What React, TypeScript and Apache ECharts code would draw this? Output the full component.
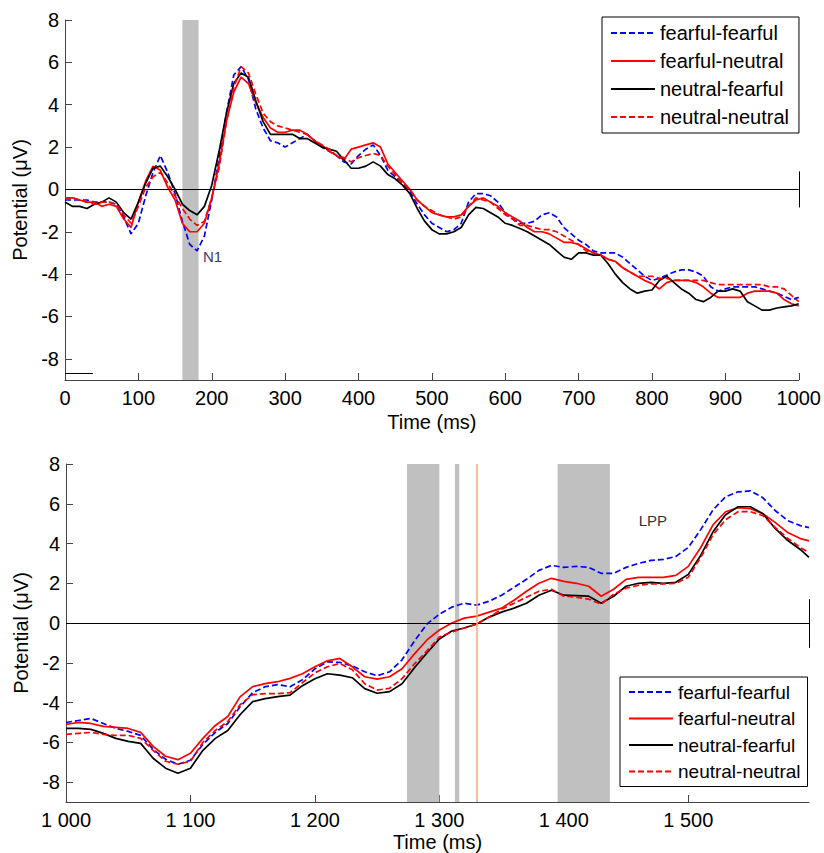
import React, { useEffect, useRef } from "react";
import * as echarts from "echarts";

const FONT = '"Liberation Sans", Arial, Helvetica, sans-serif';
const NAMES = ["fearful-fearful", "fearful-neutral", "neutral-fearful", "neutral-neutral"];

// ---------- Top panel (0 - 1000 ms) ----------
const timesTop = [
  0, 10, 20, 30, 40, 50, 60, 70, 80, 90,
  100, 110, 120, 130, 140, 150, 160, 170, 180, 190,
  200, 210, 220, 230, 240, 250, 260, 270, 280, 290,
  300, 310, 320, 330, 340, 350, 360, 370, 380, 390,
  400, 410, 420, 430, 440, 450, 460, 470, 480, 490,
  500, 510, 520, 530, 540, 550, 560, 570, 580, 590,
  600, 610, 620, 630, 640, 650, 660, 670, 680, 690,
  700, 710, 720, 730, 740, 750, 760, 770, 780, 790,
  800, 810, 820, 830, 840, 850, 860, 870, 880, 890,
  900, 910, 920, 930, 940, 950, 960, 970, 980, 990, 1000,
];
const ffTop = [
  -0.5, -0.5, -0.5, -0.5, -0.6, -0.6, -0.6, -0.7, -1.3, -2.1,
  -1.6, -0.3, 0.8, 1.6, 0.8, -0.2, -1.5, -2.6, -2.9, -2.2,
  -0.5, 1.5, 3.6, 5.4, 5.8, 5.2, 3.8, 2.9, 2.3, 2.2,
  2.0, 2.2, 2.4, 2.6, 2.3, 2.0, 1.8, 1.6, 1.3, 1.2,
  1.6, 1.9, 2.1, 1.6, 0.9, 0.6, 0.3, -0.1, -0.7, -1.2,
  -1.6, -1.8, -2.0, -1.9, -1.6, -0.6, -0.2, -0.2, -0.3, -0.6,
  -1.1, -1.4, -1.6, -1.6, -1.5, -1.2, -1.1, -1.3, -1.8, -2.1,
  -2.4, -2.6, -2.9, -3.0, -3.0, -3.0, -3.2, -3.5, -3.8, -4.1,
  -4.3, -4.2, -4.05, -3.9, -3.8, -3.8, -3.9, -4.1, -4.6, -4.8,
  -4.7, -4.6, -4.6, -4.6, -4.6, -4.7, -4.8, -4.9, -5.05, -5.2, -5.1,
];
const fnTop = [
  -0.4, -0.4, -0.5, -0.6, -0.6, -0.8, -0.7, -0.8, -1.4, -1.8,
  -0.6, 0.4, 1.1, 0.9, 0.1, -0.5, -1.6, -2.0, -2.0, -1.6,
  -0.4, 1.2, 3.2, 4.6, 5.3, 5.0, 4.1, 3.4, 2.9, 2.7,
  2.7, 2.8, 2.8, 2.6, 2.3, 2.1, 1.8, 1.6, 1.4, 1.9,
  2.0, 2.1, 2.2, 2.0, 1.2, 0.8, 0.4, 0.0, -0.5, -0.8,
  -1.1, -1.2, -1.3, -1.3, -1.2, -0.8, -0.5, -0.4, -0.6, -0.8,
  -1.1, -1.3, -1.5, -1.8, -2.0, -2.0, -2.1, -2.3, -2.5, -2.5,
  -2.6, -2.8, -3.0, -3.1, -3.3, -3.4, -3.7, -3.9, -4.1, -4.3,
  -4.45, -4.7, -4.4, -4.3, -4.3, -4.3, -4.4, -4.6, -4.9, -5.1,
  -5.1, -5.1, -5.1, -4.9, -4.8, -4.8, -4.8, -4.9, -5.2, -5.4, -5.5,
];
const nfTop = [
  -0.6, -0.8, -0.8, -0.9, -0.7, -0.6, -0.4, -0.6, -1.1, -1.4,
  -0.6, 0.3, 1.0, 1.1, 0.6, 0.0, -0.7, -1.0, -1.2, -0.8,
  0.2, 1.8, 3.6, 5.0, 5.5, 5.3, 4.2, 3.2, 2.6, 2.6,
  2.6, 2.6, 2.4, 2.4, 2.2, 2.0, 1.9, 1.8, 1.4, 1.0,
  1.0, 1.1, 1.3, 1.1, 0.7, 0.5, 0.2, -0.2, -0.9, -1.5,
  -1.9, -2.1, -2.1, -2.0, -1.8, -1.2, -0.85, -0.9, -1.1, -1.3,
  -1.6, -1.7, -1.85, -2.0, -2.2, -2.4, -2.6, -2.9, -3.2, -3.3,
  -3.0, -3.0, -3.1, -3.1, -3.5, -4.0, -4.4, -4.7, -4.9, -4.8,
  -4.75, -4.3, -4.1, -4.4, -4.7, -4.9, -5.2, -5.3, -5.1, -4.8,
  -4.8, -4.7, -4.8, -5.3, -5.5, -5.7, -5.7, -5.6, -5.55, -5.5, -5.4,
];
const nnTop = [
  -0.4, -0.4, -0.5, -0.6, -0.7, -0.6, -0.6, -0.7, -1.2, -1.6,
  -0.8, 0.1, 0.6, 0.8, 0.3, -0.3, -0.9, -1.4, -1.7, -1.5,
  -0.4, 1.0, 3.2, 4.8, 5.8, 5.5, 4.5, 3.6, 3.2, 3.0,
  2.9, 2.8, 2.7, 2.6, 2.3, 2.1, 1.9, 1.6, 1.5, 1.3,
  1.5, 1.6, 1.7, 1.6, 1.1, 0.7, 0.3, 0.0, -0.5, -0.8,
  -1.0, -1.2, -1.3, -1.4, -1.3, -0.8, -0.4, -0.5, -0.6, -0.9,
  -1.2, -1.4, -1.7, -1.7, -1.8, -1.9, -1.9, -2.0, -2.2, -2.4,
  -2.6, -2.9, -3.0, -3.1, -3.3, -3.4, -3.7, -3.9, -4.1, -4.1,
  -4.1, -4.2, -4.2, -4.3, -4.3, -4.3, -4.3, -4.3, -4.4, -4.5,
  -4.5, -4.5, -4.5, -4.5, -4.5, -4.5, -4.6, -4.6, -4.7, -5.0, -5.3,
];

// ---------- Bottom panel (1000 - 1597 ms) ----------
const timesBot = [
  1000, 1010, 1020, 1030, 1040, 1050, 1060, 1070, 1080, 1090,
  1100, 1110, 1120, 1130, 1140, 1150, 1160, 1170, 1180, 1190,
  1200, 1210, 1220, 1230, 1240, 1250, 1260, 1270, 1280, 1290,
  1300, 1310, 1320, 1330, 1340, 1350, 1360, 1370, 1380, 1390,
  1400, 1410, 1420, 1430, 1440, 1450, 1460, 1470, 1480, 1490,
  1500, 1510, 1520, 1530, 1540, 1550, 1560, 1570, 1580, 1590, 1597,
];
const ffBot = [
  -5.0, -4.9, -4.8, -5.05, -5.3, -5.45, -5.65, -6.35, -6.85, -7.1,
  -6.9, -6.1, -5.5, -5.05, -4.2, -3.5, -3.2, -3.1, -3.2, -2.85,
  -2.3, -1.95, -1.98, -2.15, -2.45, -2.65, -2.45, -1.85, -0.9, -0.05,
  0.45, 0.8, 1.0, 0.9, 1.1, 1.4, 1.8, 2.2, 2.65, 2.9,
  2.8, 2.85, 2.8, 2.5, 2.5, 2.8, 3.0, 3.15, 3.2, 3.35,
  3.8, 4.7, 5.7, 6.35, 6.6, 6.65, 6.3, 5.65, 5.15, 4.9, 4.8,
];
const fnBot = [
  -5.1, -5.0, -5.05, -5.2, -5.25, -5.3, -5.5, -6.2, -6.7, -6.87,
  -6.55, -5.8, -5.15, -4.7, -3.7, -3.2, -3.05, -2.95, -2.78, -2.55,
  -2.2, -1.9, -1.78, -2.2, -2.7, -2.82, -2.7, -2.3, -1.55, -0.85,
  -0.35, 0.0, 0.25, 0.35, 0.55, 0.75, 1.15, 1.6, 2.0, 2.25,
  2.1, 2.0, 1.85, 1.35, 1.7, 2.2, 2.3, 2.3, 2.3, 2.4,
  2.85, 3.8, 4.95, 5.6, 5.8, 5.75, 5.5, 5.05, 4.55, 4.25, 4.13,
];
const nfBot = [
  -5.3, -5.3, -5.35, -5.55, -5.8, -5.95, -6.05, -6.8, -7.3, -7.55,
  -7.3, -6.4, -5.8, -5.4, -4.6, -3.95, -3.8, -3.7, -3.62, -3.15,
  -2.8, -2.55, -2.62, -2.75, -3.3, -3.53, -3.45, -3.05, -2.25, -1.5,
  -0.8, -0.4, -0.25, -0.05, 0.3, 0.55, 0.75, 1.0, 1.4, 1.65,
  1.4, 1.38, 1.35, 1.0, 1.35, 1.85, 2.0, 2.05, 2.0, 2.05,
  2.45, 3.4, 4.6, 5.45, 5.85, 5.85, 5.5, 4.75, 4.15, 3.7, 3.3,
];
const nnBot = [
  -5.6, -5.55, -5.5, -5.6, -5.65, -5.65, -5.8, -6.4, -6.95, -7.1,
  -6.95, -6.0, -5.4, -4.95, -4.1, -3.6, -3.55, -3.55, -3.5, -3.0,
  -2.5, -2.2, -2.03, -2.35, -3.05, -3.37, -3.28, -2.8, -2.05, -1.4,
  -0.7, -0.45, -0.25, -0.05, 0.3, 0.7, 1.0, 1.3, 1.6, 1.7,
  1.35, 1.3, 1.2, 0.95, 1.45, 1.75, 1.9, 1.97, 1.97, 2.0,
  2.3, 3.3, 4.45, 5.2, 5.6, 5.6, 5.4, 4.8, 4.25, 3.8, 3.55,
];

const yTicks = [-8, -6, -4, -2, 0, 2, 4, 6, 8];
const xTicksTop = [0, 100, 200, 300, 400, 500, 600, 700, 800, 900, 1000];
const xTicksBot = [1000, 1100, 1200, 1300, 1400, 1500];

const bandsTop = [[160, 182]];
const bandsBot = [[1274, 1300], [1312.5, 1316], [1395, 1437]];
const orangeLineBot = 1330;

const pair = (t: number[], v: number[]) => t.map((x, i) => [x, v[i]]);

const seriesStyles = [
  { color: "#0000ff", type: [6, 3] as any },
  { color: "#ff0000", type: "solid" },
  { color: "#000000", type: "solid" },
  { color: "#ff0000", type: [6, 3] as any },
];

function makeLines(idx: number, times: number[], arrs: number[][]) {
  return arrs.map((arr, i) => ({
    name: NAMES[i],
    type: "line",
    xAxisIndex: idx,
    yAxisIndex: idx,
    data: pair(times, arr),
    symbol: "none",
    showSymbol: false,
    smooth: false,
    z: 3,
    lineStyle: { color: seriesStyles[i].color, width: 1.7, type: seriesStyles[i].type },
    itemStyle: { color: seriesStyles[i].color },
  }));
}

const axisLabel = { color: "#000", fontSize: 20, fontFamily: FONT };

function xAxis(idx: number, min: number, max: number, ticks: number[], fmt: (v: number) => string, gap: number) {
  return {
    type: "value",
    gridIndex: idx,
    min,
    max,
    interval: 100,
    name: "Time (ms)",
    nameLocation: "middle",
    nameGap: gap,
    nameTextStyle: { color: "#000", fontSize: 20, fontFamily: FONT, verticalAlign: "top" },
    axisLine: { show: true, onZero: false, lineStyle: { color: "#444", width: 1 } },
    axisTick: { show: true, inside: true, length: 7, customValues: ticks, lineStyle: { color: "#444" } },
    axisLabel: { ...axisLabel, margin: 8, customValues: ticks, formatter: fmt },
    splitLine: { show: false },
  };
}
function yAxis(idx: number) {
  return {
    type: "value",
    gridIndex: idx,
    min: -9,
    max: 8,
    name: "Potential (μV)",
    nameLocation: "middle",
    nameGap: 32,
    nameRotate: 90,
    nameTextStyle: { color: "#000", fontSize: 20, fontFamily: FONT },
    axisLine: { show: true, onZero: false, lineStyle: { color: "#444", width: 1 } },
    axisTick: { show: true, inside: true, length: 7, customValues: yTicks, lineStyle: { color: "#444" } },
    axisLabel: { ...axisLabel, margin: 6, customValues: yTicks },
    splitLine: { show: false },
  };
}

const thousands = (v: number) => String(v).replace(/(\d)(?=(\d{3})+$)/g, "$1 ");

function legend(left: number, top: number, gap: number, pad: number[], fontSize: number) {
  return {
    data: NAMES,
    orient: "vertical",
    left,
    top,
    itemWidth: 44,
    itemHeight: 20,
    itemGap: gap,
    padding: pad,
    borderColor: "#000",
    borderWidth: 1,
    backgroundColor: "#fff",
    selectedMode: false,
    itemStyle: { opacity: 0 },
    lineStyle: { opacity: 1 },
    textStyle: { color: "#000", fontSize, fontFamily: FONT, lineHeight: 20 },
  };
}

export default function App() {
  const ref = useRef<HTMLDivElement>(null);
  useEffect(() => {
    document.body.style.margin = "0";
    if (!ref.current) return;
    const chart = echarts.init(ref.current, undefined, { renderer: "svg" });
    const option: any = {
      animation: false,
      backgroundColor: "#fff",
      textStyle: { fontFamily: FONT },
      grid: [
        { left: 65, top: 20, width: 736, height: 360 },
        { left: 66, top: 464, width: 743, height: 341 },
      ],
      xAxis: [
        xAxis(0, 0, 1000, xTicksTop, (v: number) => String(v), 32),
        xAxis(1, 1000, 1597, xTicksBot, thousands, 30),
      ],
      yAxis: [yAxis(0), yAxis(1)],
      legend: [
        legend(602, 17, 8, [6, 10, 6, 8], 20),
        legend(620, 677, 6.5, [5, 7, 5, 8], 19),
      ],
      series: [
        {
          name: "bandsTop",
          type: "line",
          xAxisIndex: 0,
          yAxisIndex: 0,
          data: [],
          z: 1,
          silent: true,
          markArea: {
            silent: true,
            itemStyle: { color: "#c0c0c0", opacity: 1 },
            data: bandsTop.map(([a, b]) => [{ xAxis: a }, { xAxis: b }]),
          },
        },
        {
          name: "linesTop",
          type: "line",
          xAxisIndex: 0,
          yAxisIndex: 0,
          data: [],
          z: 2,
          silent: true,
          markLine: {
            silent: true,
            symbol: "none",
            label: { show: false },
            lineStyle: { color: "#000", width: 1, type: "solid" },
            data: [
              { yAxis: 0 },
              [{ coord: [1000, 0.85] }, { coord: [1000, -0.85] }],
              [{ coord: [0, -8.67] }, { coord: [38, -8.67] }],
            ],
          },
          markPoint: {
            silent: true,
            symbol: "circle",
            symbolSize: 0,
            data: [{ coord: [201, -3.15], value: "N1" }],
            label: { show: true, position: "inside", formatter: "N1", color: "#3a3a66", fontSize: 15, fontFamily: FONT },
          },
        },
        ...makeLines(0, timesTop, [ffTop, fnTop, nfTop, nnTop]),
        {
          name: "bandsBot",
          type: "line",
          xAxisIndex: 1,
          yAxisIndex: 1,
          data: [],
          z: 1,
          silent: true,
          markArea: {
            silent: true,
            itemStyle: { color: "#c0c0c0", opacity: 1 },
            data: bandsBot.map(([a, b]) => [{ xAxis: a }, { xAxis: b }]),
          },
        },
        {
          name: "linesBot",
          type: "line",
          xAxisIndex: 1,
          yAxisIndex: 1,
          data: [],
          z: 2,
          silent: true,
          markLine: {
            silent: true,
            symbol: "none",
            label: { show: false },
            lineStyle: { color: "#000", width: 1, type: "solid" },
            data: [
              { yAxis: 0 },
              [{ coord: [1597, 1.2] }, { coord: [1597, -1.25] }],
              { xAxis: orangeLineBot, lineStyle: { color: "#f0a878", width: 1.5 } },
            ],
          },
          markPoint: {
            silent: true,
            symbol: "circle",
            symbolSize: 0,
            data: [{ coord: [1471.5, 5.17], value: "LPP" }],
            label: { show: true, position: "inside", formatter: "LPP", color: "#333", fontSize: 15, fontFamily: FONT },
          },
        },
        ...makeLines(1, timesBot, [ffBot, fnBot, nfBot, nnBot]),
      ],
    };
    chart.setOption(option);
    return () => chart.dispose();
  }, []);
  return <div ref={ref} style={{ width: 824, height: 853 }} />;
}
